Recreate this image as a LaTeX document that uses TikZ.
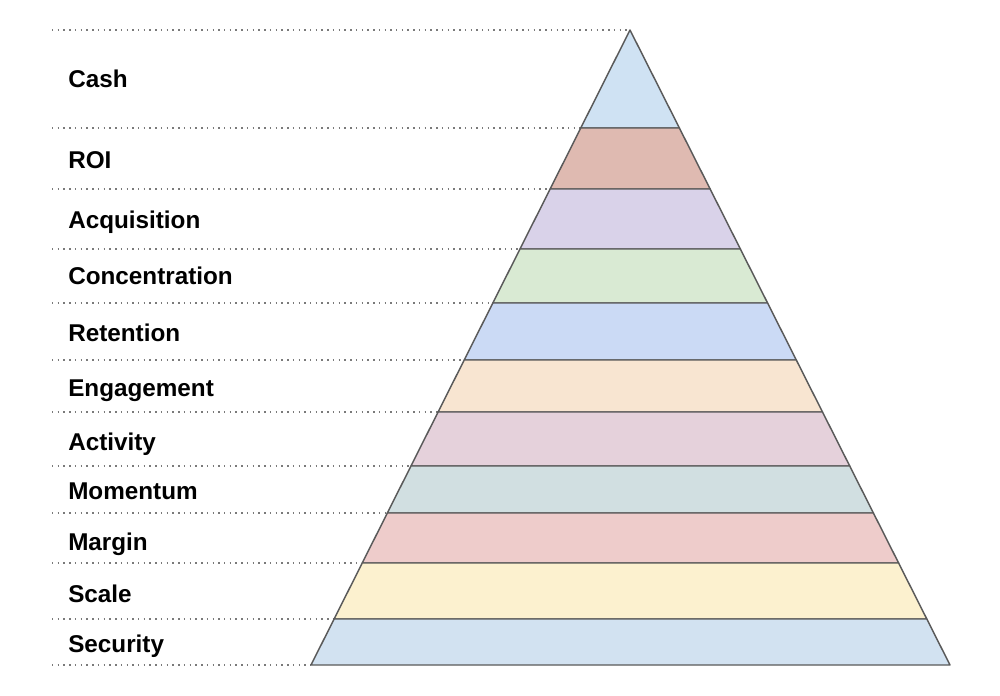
\documentclass[tikz,border=0pt]{standalone}
\usepackage{fontspec}
\setmainfont{Liberation Sans}
\definecolor{cCash}{HTML}{CFE2F3}
\definecolor{cROI}{HTML}{DFBAB1}
\definecolor{cAcq}{HTML}{D9D2E9}
\definecolor{cConc}{HTML}{D9EAD3}
\definecolor{cRet}{HTML}{CBDAF5}
\definecolor{cEng}{HTML}{F8E5D1}
\definecolor{cAct}{HTML}{E5D1DB}
\definecolor{cMom}{HTML}{D1DFE1}
\definecolor{cMar}{HTML}{EECCCB}
\definecolor{cSca}{HTML}{FCF1CF}
\definecolor{cSec}{HTML}{D2E2F1}
\definecolor{edge}{HTML}{5A5A5A}
\definecolor{dotc}{HTML}{7A7A7A}
\begin{document}
\begin{tikzpicture}[x=0.75pt,y=-0.75pt,
  layer/.style={draw=edge,line width=1.1pt,line join=round},
  dotline/.style={draw=dotc,line width=1.1pt,dash pattern=on 1.1pt off 3.2pt},
  lbl/.style={anchor=base west,font=\fontsize{18.2}{21}\selectfont\bfseries,inner sep=0pt}]
\useasboundingbox (0,0) rectangle (1000,696);
\fill[white] (0,0) rectangle (1000,696);
% dotted guide lines
\foreach \y in {30,128,189,249,303,360,412,466,513,563,619,665}{
  \pgfmathsetmacro\lx{630-(\y-30)/635*319}
  \draw[dotline] (52,\y) -- (\lx,\y);
}
% layers
\foreach \a/\b/\c in {30/128/cCash,128/189/cROI,189/249/cAcq,249/303/cConc,303/360/cRet,360/412/cEng,412/466/cAct,466/513/cMom,513/563/cMar,563/619/cSca,619/665/cSec}{
  \pgfmathsetmacro\la{630-(\a-30)/635*319}
  \pgfmathsetmacro\ra{630+(\a-30)/635*320}
  \pgfmathsetmacro\lb{630-(\b-30)/635*319}
  \pgfmathsetmacro\rb{630+(\b-30)/635*320}
  \filldraw[layer,fill=\c] (\la,\a) -- (\ra,\a) -- (\rb,\b) -- (\lb,\b) -- cycle;
}
% labels
\node[lbl] (cash) at (68,87) {Cash};
\node[lbl] (roi) at (68,168) {ROI};
\node[lbl] (acq) at (68,228) {Acquisition};
\node[lbl] (conc) at (68,284) {Concentration};
\node[lbl] (ret) at (68,341) {Retention};
\node[lbl] (eng) at (68,396) {Engagement};
\node[lbl] (act) at (68,450) {Activity};
\node[lbl] (mom) at (68,499) {Momentum};
\node[lbl] (mar) at (68,550) {Margin};
\node[lbl] (sca) at (68,602) {Scale};
\node[lbl] (sec) at (68,652) {Security};
\end{tikzpicture}
\end{document}
